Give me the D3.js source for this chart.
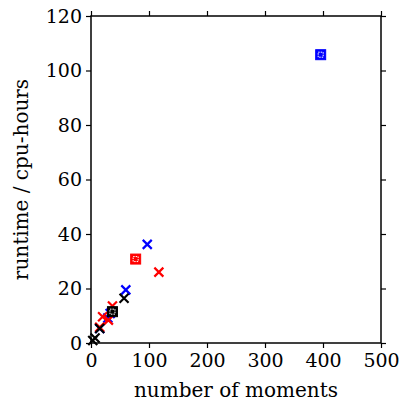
<!DOCTYPE html>
<html>
<head>
<meta charset="utf-8">
<script src="https://cdnjs.cloudflare.com/ajax/libs/d3/7.8.5/d3.min.js"></script>
<style>
  body { margin: 0; background: #fff; }
  svg text { font-family: "DejaVu Serif", serif; fill: #000; }
</style>
</head>
<body>
<svg id="chart" width="408" height="408"></svg>
<script>
// values: [moments, cpu-hours]
const blueCrosses = [[15, 5.3], [29, 9.2], [33, 10.8], [60, 19.5], [97, 36.2]];
const blueSquares = [[396, 105.8]];
const redCrosses = [[15, 5.8], [20, 9.6], [30, 8.4], [37, 13.6], [117, 26]];
const redSquares = [[77, 30.8]];
const blackCrosses = [[3, 0.9], [7, 1.8], [15, 5.3], [57, 16.4]];
const blackSquares = [[37, 11.5]];

const xTicks = [0, 100, 200, 300, 400, 500];
const yTicks = [0, 20, 40, 60, 80, 100, 120];

const series = [
    { color: '#0000ff', crosses: blueCrosses, squares: blueSquares },
    { color: '#ff0000', crosses: redCrosses, squares: redSquares },
    { color: '#000000', crosses: blackCrosses, squares: blackSquares }
];

const svg = d3.select('#chart');
const margin = { top: 16, right: 27, bottom: 65, left: 91 };
const width = +svg.attr('width') - margin.left - margin.right;
const height = +svg.attr('height') - margin.top - margin.bottom;
const chartArea = svg.append('g').attr('transform', `translate(${margin.left},${margin.top})`);

const xScale = d3.scaleLinear().domain([0, 500]).range([0, width]);
const yScale = d3.scaleLinear().domain([0, 120]).range([height, 0]);

const styleAxis = (g, labels) => {
    g.attr('font-family', null);
    g.select('.domain').remove();
    g.selectAll('.tick line').attr('stroke', '#000').attr('stroke-width', 1.2);
    g.selectAll('.tick text').style('font-size', labels ? '19px' : '0px');
};

chartArea.append('g')
    .attr('transform', `translate(0,${height})`)
    .call(d3.axisBottom(xScale).tickValues(xTicks).tickSize(5).tickPadding(6))
    .call(g => styleAxis(g, true));
chartArea.append('g')
    .call(d3.axisTop(xScale).tickValues(xTicks).tickSize(5).tickFormat(''))
    .call(g => styleAxis(g, false));
chartArea.append('g')
    .call(d3.axisLeft(yScale).tickValues(yTicks).tickSize(5).tickPadding(4))
    .call(g => styleAxis(g, true));
chartArea.append('g')
    .attr('transform', `translate(${width},0)`)
    .call(d3.axisRight(yScale).tickValues(yTicks).tickSize(5).tickFormat(''))
    .call(g => styleAxis(g, false));

chartArea.append('rect')
    .attr('width', width)
    .attr('height', height)
    .attr('fill', 'none')
    .attr('stroke', '#000')
    .attr('stroke-width', 1.5);

chartArea.append('text')
    .attr('transform', `translate(${width / 2},${height + 54})`)
    .style('text-anchor', 'middle')
    .style('font-size', '20px')
    .text('number of moments');

chartArea.append('text')
    .attr('transform', 'rotate(-90)')
    .attr('y', -63)
    .attr('x', -height / 2)
    .style('text-anchor', 'middle')
    .style('font-size', '20px')
    .text('runtime / cpu-hours');

const r = 4.5;
const cross = `M${-r},${-r}L${r},${r}M${-r},${r}L${r},${-r}`;

series.forEach(s => {
    chartArea.append('g').selectAll('path')
        .data(s.crosses)
        .join('path')
        .attr('transform', d => `translate(${xScale(d[0])},${yScale(d[1])})`)
        .attr('d', cross)
        .attr('fill', 'none')
        .attr('stroke', s.color)
        .attr('stroke-width', 2.2);

    const sq = chartArea.append('g').selectAll('g')
        .data(s.squares)
        .join('g')
        .attr('transform', d => `translate(${xScale(d[0])},${yScale(d[1])})`);
    sq.append('rect')
        .attr('x', -5).attr('y', -5)
        .attr('width', 10).attr('height', 10)
        .attr('fill', s.color)
        .attr('stroke', s.color)
        .attr('stroke-width', 1);
    sq.append('rect')
        .attr('x', -2.5).attr('y', -2.5)
        .attr('width', 5).attr('height', 5)
        .attr('fill', 'none')
        .attr('stroke', '#fff')
        .attr('stroke-width', 1)
        .attr('stroke-dasharray', '1.5 1');
    sq.append('path')
        .attr('d', 'M-1,-1L1,1M-1,1L1,-1')
        .attr('stroke', s.color)
        .attr('stroke-width', 1.2);
});
</script>
</body>
</html>
